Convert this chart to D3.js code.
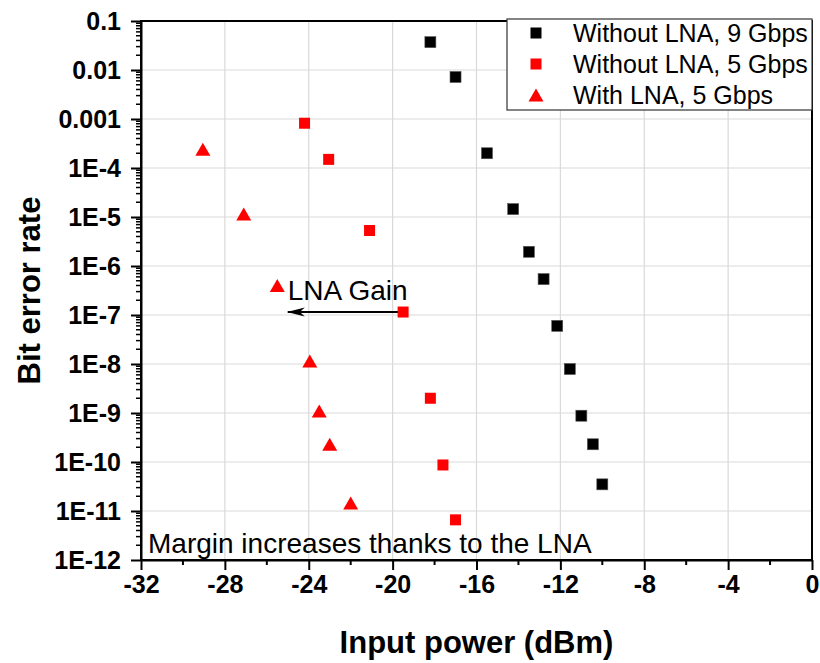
<!doctype html>
<html lang="en">
<head>
  <meta charset="utf-8">
  <title>BER vs input power</title>
  <style>
  body { margin: 0; background: #fff; }
  svg { font-family: "Liberation Sans", Arial, sans-serif; }
  .grid line { stroke: #d9d9d9; stroke-width: 1.2; }
  .tick text { font-weight: bold; font-size: 25px; fill: #000; }
  .axis path, .axis line { stroke: #000; stroke-width: 2; }
  </style>
</head>
<body>
<div id="chart"></div>
<script src="https://cdn.jsdelivr.net/npm/d3@7"></script>
<script>

// ---------------- data
var series = ["Without LNA, 9 Gbps", "Without LNA, 5 Gbps", "With LNA, 5 Gbps"];

var power9 = [-18.2, -17.0, -15.5, -14.25, -13.5, -12.8, -12.15, -11.55, -11.0, -10.45, -10.0];
var ber9   = [3.7e-2, 7.2e-3, 2.0e-4, 1.45e-5, 1.95e-6, 5.4e-7, 6.0e-8, 7.9e-9, 8.8e-10, 2.3e-10, 3.5e-11];

var power5 = [-24.2, -23.05, -21.1, -19.5, -18.2, -17.6, -17.0];
var ber5   = [8.2e-4, 1.5e-4, 5.3e-6, 1.15e-7, 2.0e-9, 8.7e-11, 6.6e-12];

var powerLna = [-29.05, -27.1, -25.5, -23.95, -23.5, -23.0, -22.0];
var berLna   = [2.4e-4, 1.15e-5, 4.0e-7, 1.15e-8, 1.1e-9, 2.3e-10, 1.45e-11];

var xTicks = [-32, -28, -24, -20, -16, -12, -8, -4, 0];
var xTickLabels = ["-32", "-28", "-24", "-20", "-16", "-12", "-8", "-4", "0"];
var yTicks = [1e-1, 1e-2, 1e-3, 1e-4, 1e-5, 1e-6, 1e-7, 1e-8, 1e-9, 1e-10, 1e-11, 1e-12];
var yTickLabels = ["0.1", "0.01", "0.001", "1E-4", "1E-5", "1E-6", "1E-7", "1E-8", "1E-9", "1E-10", "1E-11", "1E-12"];

// arrow "LNA Gain": from the 5 Gbps point to here
var arrowFrom = [-19.5, 1.15e-7];
var arrowTo = [-25.0, 1.15e-7];

//----------------- set up
var width = 820, height = 663;
var margin = {top: 21, right: 8, bottom: 103, left: 141};
var w = width - margin.left - margin.right,
    h = height - margin.top - margin.bottom;

var svg = d3.select("#chart").append("svg")
    .attr("width", width)
    .attr("height", height);

var defs = svg.append("defs");
defs.append("marker")
    .attr("id", "head")
    .attr("viewBox", "0 0 18 10")
    .attr("refX", 17).attr("refY", 5)
    .attr("markerWidth", 18).attr("markerHeight", 10)
    .attr("markerUnits", "userSpaceOnUse")
    .attr("orient", "auto")
  .append("path")
    .attr("d", "M0,0.5 L18,5 L0,9.5 L5,5 Z")
    .attr("fill", "#000");

var g = svg.append("g")
    .attr("transform", "translate(" + margin.left + "," + margin.top + ")");

var x = d3.scaleLinear().domain([-32, 0]).range([0, w]);
var y = d3.scaleLog().domain([1e-12, 1e-1]).range([h, 0]);

// grid
g.append("g").attr("class", "grid")
  .selectAll("line").data(xTicks.slice(1, -1)).enter()
  .append("line")
    .attr("x1", d => x(d)).attr("x2", d => x(d))
    .attr("y1", 0).attr("y2", h);
g.append("g").attr("class", "grid")
  .selectAll("line").data(yTicks.slice(1, -1)).enter()
  .append("line")
    .attr("x1", 0).attr("x2", w)
    .attr("y1", d => y(d)).attr("y2", d => y(d));

// minor ticks
var xMinor = d3.range(-30, 0, 4);
g.append("g").selectAll("line").data(xMinor).enter()
  .append("line")
    .attr("x1", d => x(d)).attr("x2", d => x(d))
    .attr("y1", h).attr("y2", h + 5)
    .attr("stroke", "#000").attr("stroke-width", 2);

var yMinor = [];
for (var e = -12; e < -1; e++) {
  for (var k = 2; k <= 9; k++) yMinor.push(k * Math.pow(10, e));
}
g.append("g").selectAll("line").data(yMinor).enter()
  .append("line")
    .attr("x1", 0).attr("x2", -5)
    .attr("y1", d => y(d)).attr("y2", d => y(d))
    .attr("stroke", "#000").attr("stroke-width", 1.5);

// axes
g.append("g").attr("class", "axis")
  .attr("transform", "translate(0," + h + ")")
  .call(d3.axisBottom(x).tickValues(xTicks).tickSize(10).tickSizeOuter(0).tickPadding(5)
        .tickFormat((d, i) => xTickLabels[i]));

g.append("g").attr("class", "axis")
  .call(d3.axisLeft(y).tickValues(yTicks).tickSize(10).tickSizeOuter(0).tickPadding(10)
        .tickFormat((d, i) => yTickLabels[i]));

// frame
g.append("rect")
  .attr("x", 0).attr("y", 0).attr("width", w).attr("height", h)
  .attr("fill", "none").attr("stroke", "#000").attr("stroke-width", 2);

// axis titles
svg.append("text")
  .attr("x", margin.left + w / 2).attr("y", 653)
  .attr("text-anchor", "middle")
  .attr("font-weight", "bold").attr("font-size", "31px")
  .text("Input power (dBm)");

svg.append("text")
  .attr("transform", "translate(40," + (margin.top + h / 2) + ") rotate(-90)")
  .attr("text-anchor", "middle")
  .attr("font-weight", "bold").attr("font-size", "31px")
  .text("Bit error rate");

// arrow + label
g.append("line")
  .attr("x1", x(arrowFrom[0])).attr("y1", y(arrowFrom[1]))
  .attr("x2", x(arrowTo[0])).attr("y2", y(arrowTo[1]))
  .attr("stroke", "#000").attr("stroke-width", 2)
  .attr("marker-end", "url(#head)");

g.append("text")
  .attr("x", x(arrowTo[0])).attr("y", y(arrowFrom[1]) - 12)
  .attr("font-size", "28px")
  .text("LNA Gain");

g.append("text")
  .attr("x", 7).attr("y", h - 7)
  .attr("font-size", "28px")
  .text("Margin increases thanks to the LNA");

// markers
var sq = 11;
var tri = function(wd, ht) {
  return "M0," + (-ht / 2) + "L" + (wd / 2) + "," + (ht / 2) + "L" + (-wd / 2) + "," + (ht / 2) + "Z";
};

g.append("g").selectAll("rect").data(d3.zip(power9, ber9)).enter()
  .append("rect")
    .attr("x", d => x(d[0]) - sq / 2).attr("y", d => y(d[1]) - sq / 2)
    .attr("width", sq).attr("height", sq)
    .attr("fill", "#000").attr("stroke", "#555").attr("stroke-width", 0.6);

g.append("g").selectAll("rect").data(d3.zip(power5, ber5)).enter()
  .append("rect")
    .attr("x", d => x(d[0]) - sq / 2).attr("y", d => y(d[1]) - sq / 2)
    .attr("width", sq).attr("height", sq)
    .attr("fill", "#ff0000");

g.append("g").selectAll("path").data(d3.zip(powerLna, berLna)).enter()
  .append("path")
    .attr("transform", d => "translate(" + x(d[0]) + "," + y(d[1]) + ")")
    .attr("d", tri(15, 13))
    .attr("fill", "#ff0000");

// legend
var legend = svg.append("g").attr("transform", "translate(507,19)");
legend.append("rect")
  .attr("width", 305).attr("height", 91)
  .attr("fill", "#fff").attr("stroke", "#333").attr("stroke-width", 1.2);

var rows = legend.selectAll("g.row").data(series).enter()
  .append("g").attr("class", "row")
  .attr("transform", (d, i) => "translate(0," + (14 + i * 31) + ")");

rows.each(function(d, i) {
  var r = d3.select(this);
  if (i < 2) {
    r.append("rect").attr("x", 29 - sq / 2).attr("y", -sq / 2)
      .attr("width", sq).attr("height", sq)
      .attr("fill", i === 0 ? "#000" : "#ff0000");
  } else {
    r.append("path").attr("transform", "translate(29,0)").attr("d", tri(15, 13)).attr("fill", "#ff0000");
  }
  r.append("text").attr("x", 66).attr("y", 9)
    .attr("font-size", "25px")
    .text(d);
});

// redraw right and top frame edges on top of legend
g.append("line")
  .attr("x1", w).attr("x2", w).attr("y1", 0).attr("y2", h)
  .attr("stroke", "#000").attr("stroke-width", 2);
g.append("line")
  .attr("x1", 0).attr("x2", w).attr("y1", 0).attr("y2", 0)
  .attr("stroke", "#000").attr("stroke-width", 2);

</script>
</body>
</html>
